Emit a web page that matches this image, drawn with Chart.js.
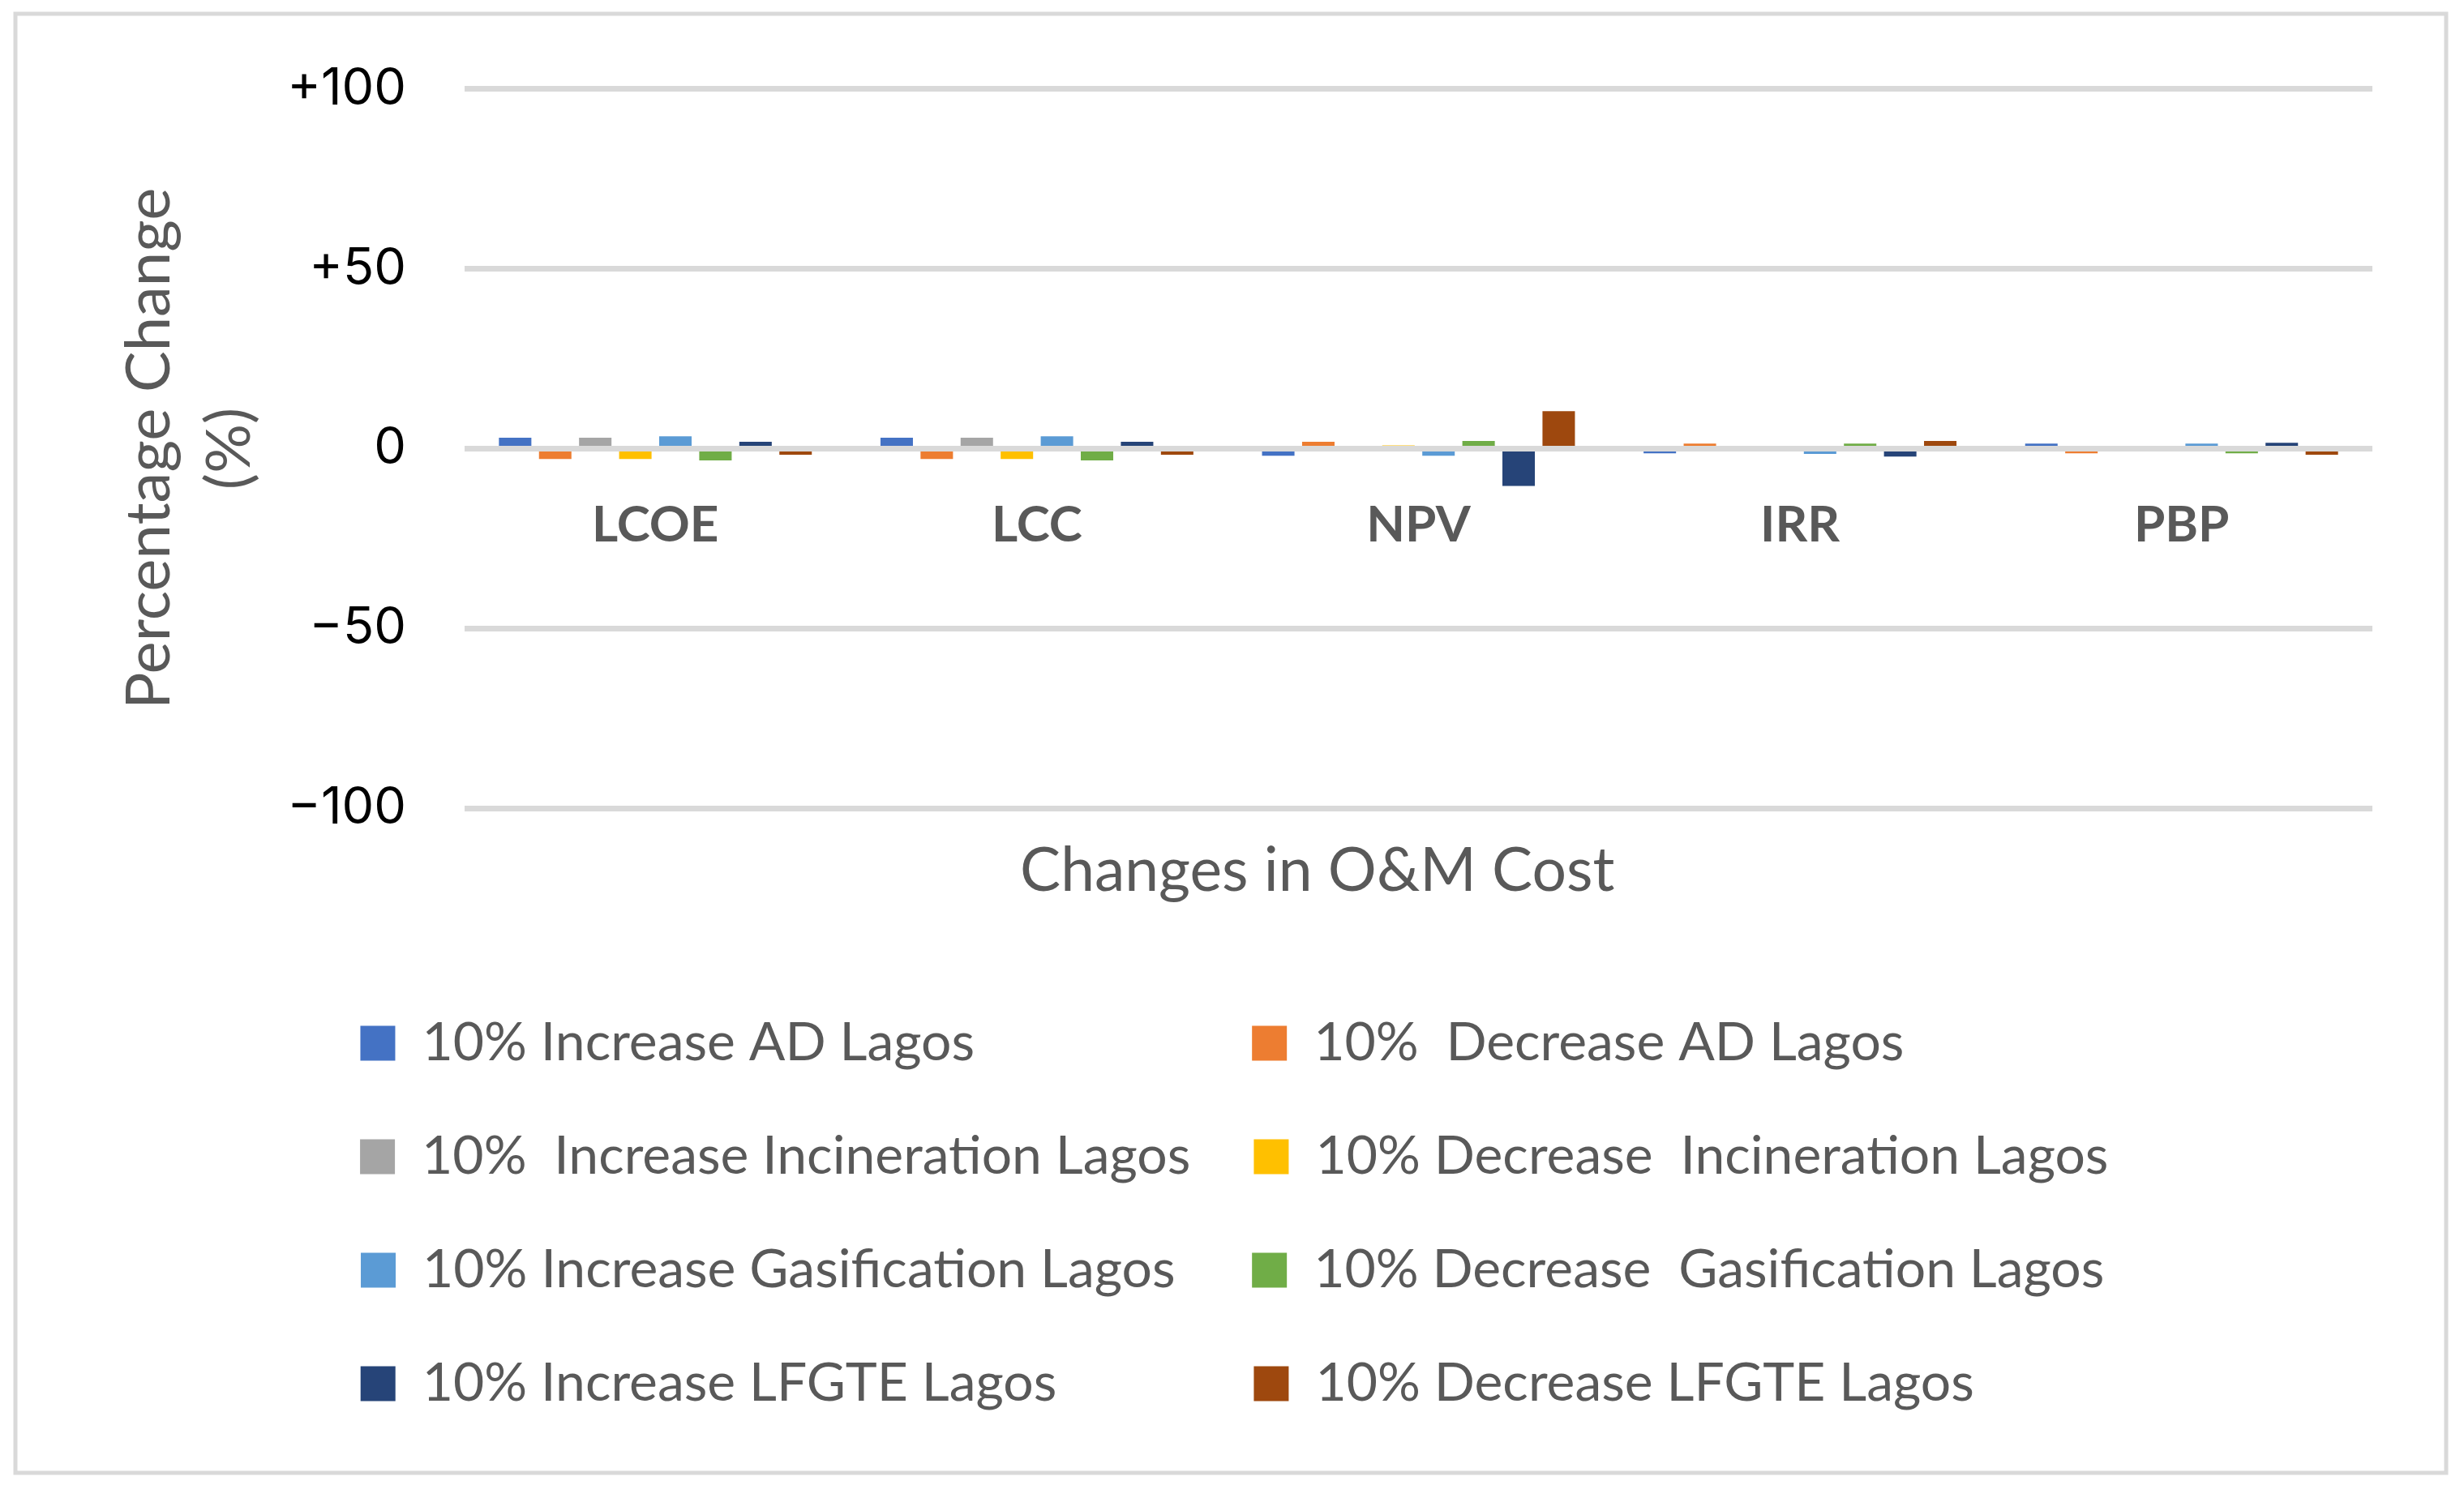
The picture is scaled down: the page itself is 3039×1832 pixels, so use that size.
<!DOCTYPE html>
<html>
<head>
<meta charset="utf-8">
<script src="https://cdn.jsdelivr.net/npm/chart.js@4.4.0/dist/chart.umd.min.js"></script>
<style>
html,body{margin:0;padding:0;background:#fff;}
canvas{display:block;}
</style>
</head>
<body>
<canvas id="c" width="3039" height="1832"></canvas>
<script>
// ---------- data ----------
const categories = ['LCOE', 'LCC', 'NPV', 'IRR', 'PBP'];

const seriesLabels = [
  '10% Increase AD Lagos',
  '10%  Decrease AD Lagos',
  '10%  Increase Incineration Lagos',
  '10% Decrease  Incineration Lagos',
  '10% Increase Gasification Lagos',
  '10% Decrease  Gasification Lagos',
  '10% Increase LFGTE Lagos',
  '10% Decrease LFGTE Lagos'
];
const seriesColors = ['#4472C4', '#ED7D31', '#A5A5A5', '#FFC000', '#5B9BD5', '#70AD47', '#264478', '#9E480E'];

const adIncrease           = [3.0, 3.0, -2.0, -1.3, 1.4];
const adDecrease           = [-2.9, -2.9, 1.9, 1.4, -1.3];
const incinerationIncrease = [3.0, 3.0, -0.5, 0, 0];
const incinerationDecrease = [-2.9, -2.9, 0.9, 0, 0];
const gasificationIncrease = [3.4, 3.4, -2.0, -1.5, 1.4];
const gasificationDecrease = [-3.3, -3.3, 2.1, 1.4, -1.3];
const lfgteIncrease        = [1.9, 1.9, -10.4, -2.2, 1.6];
const lfgteDecrease        = [-1.7, -1.7, 10.4, 2.1, -1.7];

const seriesValues = [adIncrease, adDecrease, incinerationIncrease, incinerationDecrease,
                      gasificationIncrease, gasificationDecrease, lfgteIncrease, lfgteDecrease];

const yTickValues = [-100, -50, 0, 50, 100];
const yTickLabels = ['\u2212100', '\u221250', '0', '+50', '+100'];

const xAxisTitle = 'Changes in O&M Cost';
const yAxisTitle = ['Percentage Change', '(%)'];

// ---------- styling ----------
const textGray = '#595959';
const gridGray = '#D9D9D9';
const legendFontSize = 66;
const legendPad = 74;
const legendBox = 43;
const col1TextWidth = 949;
const col2TextWidth = 993;
const xTitleSize = 75;

// shift x-axis title left (it is not centred on the plot in the original)
const mctx = document.createElement('canvas').getContext('2d');
mctx.font = xTitleSize + 'px Lato';
const spaceW = mctx.measureText(' ').width || 15;
const titleShift = 246;
const xTitleText = xAxisTitle + ' '.repeat(Math.max(0, Math.round(titleShift / spaceW)));

const framePlugin = {
  id: 'frame',
  beforeDraw(chart) {
    const ctx = chart.ctx;
    ctx.save();
    ctx.fillStyle = '#FFFFFF';
    ctx.fillRect(0, 0, chart.width, chart.height);
    ctx.strokeStyle = gridGray;
    ctx.lineWidth = 5;
    ctx.strokeRect(19, 17, 2998, 1800);
    ctx.restore();
  }
};

const datasets = seriesLabels.map((lab, i) => ({
  label: lab,
  data: seriesValues[i],
  backgroundColor: seriesColors[i],
  borderWidth: 0,
  categoryPercentage: 0.84,
  barPercentage: 0.81
}));

new Chart(document.getElementById('c'), {
  type: 'bar',
  data: { labels: categories, datasets },
  plugins: [framePlugin],
  options: {
    responsive: false,
    devicePixelRatio: 1,
    animation: false,
    layout: { padding: { left: 135, right: 113, top: 107, bottom: 82 } },
    plugins: {
      tooltip: { enabled: false },
      title: { display: false },
      legend: {
        display: true,
        position: 'bottom',
        align: 'center',
        labels: {
          font: { family: 'Lato', size: legendFontSize },
          color: textGray,
          boxWidth: legendBox,
          boxHeight: legendBox,
          padding: legendPad,
          generateLabels(chart) {
            const items = Chart.defaults.plugins.legend.labels.generateLabels(chart);
            const ctx = chart.ctx;
            ctx.save();
            ctx.font = legendFontSize + 'px Lato';
            items.forEach((it, i) => {
              const target = (i % 2 === 0) ? col1TextWidth : col2TextWidth;
              let t = it.text;
              let guard = 0;
              while (ctx.measureText(t).width < target && guard++ < 600) t += '\u200A';
              it.text = t;
              it.lineWidth = 0;
              it.strokeStyle = 'rgba(0,0,0,0)';
            });
            ctx.restore();
            return items;
          }
        }
      }
    },
    scales: {
      x: {
        axis: 'x',
        type: 'category',
        position: { y: 0 },
        grid: { display: false, drawTicks: false },
        border: { display: false },
        ticks: {
          font: { family: 'Lato', size: 62, weight: 'bold' },
          color: textGray,
          padding: 57,
          maxRotation: 0,
          autoSkip: false
        }
      },
      x2: {
        axis: 'x',
        type: 'category',
        position: 'bottom',
        grid: { display: false, drawTicks: false },
        border: { display: false },
        ticks: { display: false },
        title: {
          display: true,
          text: xTitleText,
          font: { family: 'Lato', size: xTitleSize },
          color: textGray,
          padding: { top: 0, bottom: 60 }
        },
        afterFit(scale) { scale.height = 183; }
      },
      y: {
        type: 'linear',
        position: 'left',
        min: -100,
        max: 100,
        afterBuildTicks(scale) { scale.ticks = yTickValues.map(v => ({ value: v })); },
        grid: { color: gridGray, lineWidth: 7, drawTicks: false, z: 1 },
        border: { display: false },
        ticks: {
          font: { family: 'Inter', size: 63 },
          color: '#000000',
          padding: 72,
          callback(value) {
            const idx = yTickValues.indexOf(value);
            return idx >= 0 ? yTickLabels[idx] : '';
          }
        },
        title: {
          display: true,
          text: yAxisTitle,
          font: { family: 'Lato', size: 76, lineHeight: 1.3 },
          color: textGray,
          padding: { top: 0, bottom: 0 }
        },
        afterFit(scale) { scale.width = 438; }
      }
    }
  }
});
</script>
</body>
</html>
